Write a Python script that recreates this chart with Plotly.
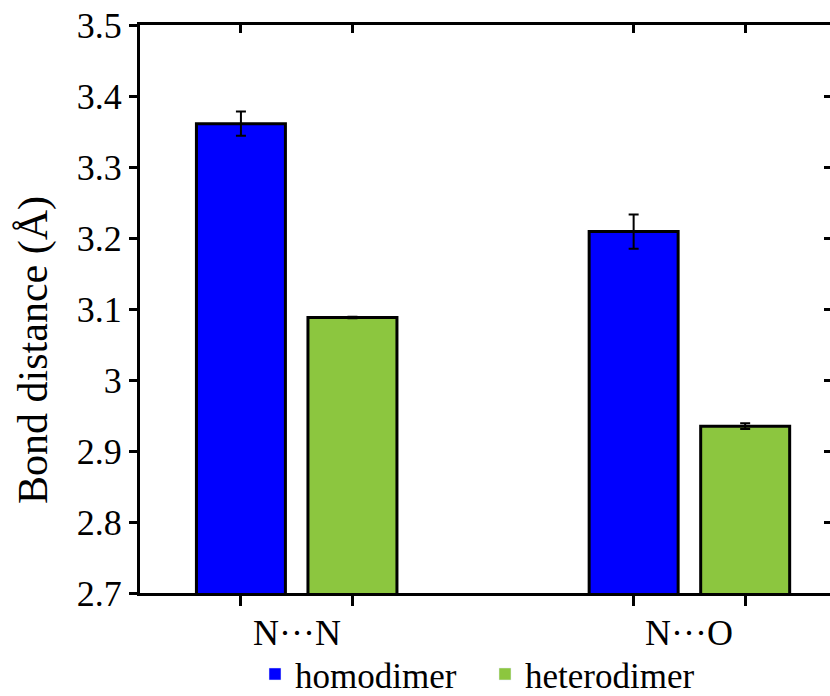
import plotly.graph_objects as go

categories = ["N···N", "N···O"]
series_names = ["homodimer", "heterodimer"]
homodimer = [3.361, 3.209]
homodimer_err = [0.017, 0.024]
heterodimer = [3.088, 2.935]
heterodimer_err = [0.001, 0.004]
y_ticks = [2.7, 2.8, 2.9, 3.0, 3.1, 3.2, 3.3, 3.4, 3.5]
y_ticktext = ["2.7", "2.8", "2.9", "3", "3.1", "3.2", "3.3", "3.4", "3.5"]
y_title = "Bond distance (Å)"

colors = ["#0000ff", "#8cc63f"]
offset = 0.142
bar_w = 0.2266
font = "Liberation Serif, Times New Roman, serif"

vals = [homodimer, heterodimer]
errs = [homodimer_err, heterodimer_err]
signs = [-1, 1]

fig = go.Figure()
all_centers = []
for s, (name, v, e, c) in enumerate(zip(series_names, vals, errs, colors)):
    xs = [g + signs[s] * offset for g in range(len(categories))]
    all_centers += xs
    fig.add_trace(go.Bar(
        x=xs, y=v, width=bar_w, base=0,
        marker=dict(color=c, line=dict(color="black", width=3)),
        error_y=dict(type="data", array=e, color="black", thickness=2, width=5),
        showlegend=False, name=name,
    ))
for name, c in zip(series_names, colors):
    fig.add_trace(go.Bar(x=[None], y=[None], name=name, marker=dict(color=c), showlegend=True))

all_centers = sorted(all_centers)
xr = [-0.399, 1.358]
yr = [2.7, 3.5]

fig.update_layout(
    width=830, height=696,
    margin=dict(l=140, r=0, t=25, b=103, autoexpand=False),
    plot_bgcolor="white", paper_bgcolor="white",
    barmode="overlay",
    font=dict(family=font, color="black", size=34),
    xaxis=dict(range=xr, tickvals=all_centers, ticktext=[""] * len(all_centers),
               ticks="outside", ticklen=10, tickwidth=3, tickcolor="black",
               showline=True, linecolor="black", linewidth=3, showgrid=False, zeroline=False),
    xaxis2=dict(range=xr, overlaying="x", side="top", tickvals=all_centers,
                ticktext=[""] * len(all_centers), ticks="inside", ticklen=8, tickwidth=3,
                tickcolor="black", showline=True, linecolor="black", linewidth=3,
                showgrid=False, zeroline=False),
    yaxis=dict(range=yr, tickvals=y_ticks, ticktext=y_ticktext,
               ticks="outside", ticklen=8, tickwidth=3, tickcolor="black",
               showline=True, linecolor="black", linewidth=3, showgrid=False, zeroline=False,
               tickfont=dict(family=font, size=36, color="black")),
    yaxis2=dict(range=yr, overlaying="y", side="right", tickvals=y_ticks,
                ticktext=[""] * len(y_ticks), ticks="inside", ticklen=6, tickwidth=3,
                tickcolor="black", showline=False, showgrid=False, zeroline=False),
    legend=dict(orientation="h", x=0.5, xanchor="center", y=-0.143, yanchor="middle",
                font=dict(family=font, size=35, color="black"), bgcolor="rgba(0,0,0,0)",
                itemwidth=30, tracegroupgap=0, entrywidth=185, entrywidthmode="pixels"),
)
fig.add_annotation(x=-0.1536, y=0.428, xref="paper", yref="paper", text=y_title,
                   textangle=-90, showarrow=False, xanchor="center", yanchor="middle",
                   font=dict(size=42, family=font, color="black"))
for cat_i, cat in enumerate(categories):
    fig.add_annotation(x=cat_i, y=-0.07, xref="x", yref="paper", text=cat,
                       showarrow=False, yanchor="middle", xanchor="center",
                       font=dict(size=36, family=font, color="black"))
# invisible trace to activate secondary axes
fig.add_trace(go.Scatter(x=[xr[0]], y=[yr[0]], xaxis="x2", yaxis="y2", mode="markers",
                         marker=dict(opacity=0), showlegend=False, hoverinfo="skip"))

fig.write_html("out.html")
